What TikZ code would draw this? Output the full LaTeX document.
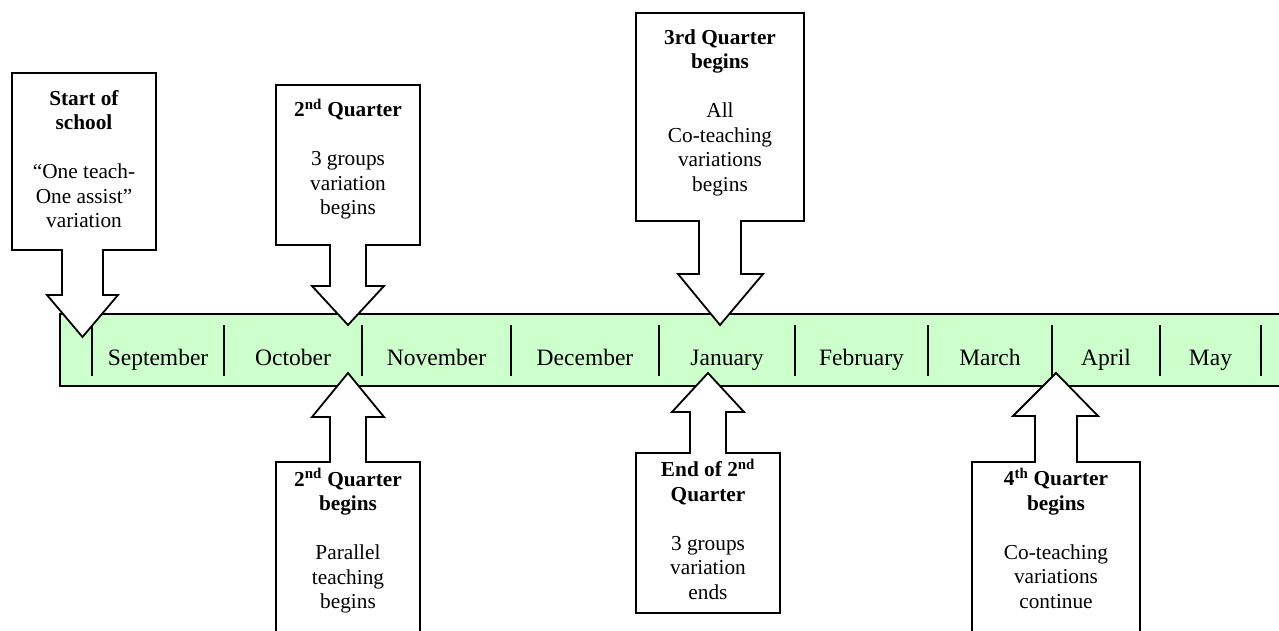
\documentclass[tikz,border=0pt]{standalone}
\usepackage{fontspec}
\setmainfont{Liberation Serif}
\definecolor{bandgreen}{RGB}{204,255,204}
\begin{document}
\begin{tikzpicture}[x=1pt,y=-1pt,
  outline/.style={draw=black,line width=1.8pt,line join=miter,fill=white},
  band/.style={draw=black,line width=1.8pt,fill=bandgreen},
  divider/.style={draw=black,line width=2pt},
  month/.style={font=\fontsize{23.5pt}{27pt}\selectfont,anchor=base,inner sep=0pt},
  note/.style={font=\fontsize{21.3pt}{24.5pt}\selectfont,align=center,anchor=north,inner sep=0pt}]
\useasboundingbox (0,0) rectangle (1279,631);
\clip (0,0) rectangle (1279,631);
% timeline band
\draw[band] (60,314) rectangle (1300,386);
\foreach \x in {92,224,362,511,659,795,928,1052,1160,1261}
  \draw[divider] (\x,325) -- (\x,376);
\node[month] (sep) at (158,365) {September};
\node[month] (oct) at (293,365) {October};
\node[month] (nov) at (436.5,365) {November};
\node[month] (dec) at (585,365) {December};
\node[month] (jan) at (727,365) {January};
\node[month] (feb) at (861.5,365) {February};
\node[month] (mar) at (990,365) {March};
\node[month] (apr) at (1106,365) {April};
\node[month] (may) at (1210.5,365) {May};
% top callouts
\draw[outline] (12,73) -- (156,73) -- (156,250) -- (103,250) -- (103,295) -- (118,295) -- (82.5,337) -- (47,295) -- (62,295) -- (62,250) -- (12,250) -- cycle;
\draw[outline] (276,85) -- (420,85) -- (420,245) -- (366,245) -- (366,286) -- (384,286) -- (348,325) -- (312,286) -- (330,286) -- (330,245) -- (276,245) -- cycle;
\draw[outline] (636,13) -- (804,13) -- (804,221) -- (741,221) -- (741,274) -- (763,274) -- (720,325) -- (678,274) -- (699,274) -- (699,221) -- (636,221) -- cycle;
% bottom callouts
\draw[outline] (348,373) -- (384,417) -- (366,417) -- (366,462) -- (420,462) -- (420,660) -- (276,660) -- (276,462) -- (330,462) -- (330,417) -- (312,417) -- cycle;
\draw[outline] (708,373) -- (744,412) -- (726,412) -- (726,453) -- (780,453) -- (780,613) -- (636,613) -- (636,453) -- (690,453) -- (690,412) -- (672,412) -- cycle;
\draw[outline] (1056,373) -- (1098,416) -- (1077,416) -- (1077,462) -- (1140,462) -- (1140,660) -- (972,660) -- (972,462) -- (1035,462) -- (1035,416) -- (1013,416) -- cycle;
% callout texts
\node[note] (startschool) at (84,87.85) {\strut\textbf{Start of}\\\textbf{school}\\[24.5pt]“One teach-\\One assist”\\variation};
\node[note] (secondq) at (348,98.85) {\strut\textbf{2\textsuperscript{nd} Quarter}\\[24.5pt]3 groups\\variation\\begins};
\node[note] (thirdq) at (720,26.85) {\strut\textbf{3rd Quarter}\\\textbf{begins}\\[24.5pt]All\\Co-teaching\\variations\\begins};
\node[note] (secondqb) at (348,468.35) {\strut\textbf{2\textsuperscript{nd} Quarter}\\\textbf{begins}\\[24.5pt]Parallel\\teaching\\begins};
\node[note] (endsecond) at (708,458.85) {\strut\textbf{End of 2\textsuperscript{nd}}\\\textbf{Quarter}\\[24.5pt]3 groups\\variation\\ends};
\node[note] (fourthq) at (1056,467.85) {\strut\textbf{4\textsuperscript{th} Quarter}\\\textbf{begins}\\[24.5pt]Co-teaching\\variations\\continue};
\end{tikzpicture}
\end{document}
